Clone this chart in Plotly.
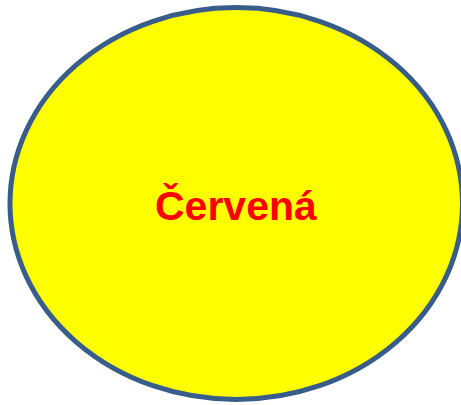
import plotly.graph_objects as go

label = ["Červená"]
ellipse_x = [10, 462.5]
ellipse_y = [7.5, 399.5]

W, H = 461, 405
fig = go.Figure()
fig.add_shape(type="circle", xref="x", yref="y",
              x0=ellipse_x[0], x1=ellipse_x[1], y0=H - ellipse_y[1], y1=H - ellipse_y[0],
              fillcolor="#FFFF00", line=dict(color="#385D8A", width=5), layer="above")
fig.add_annotation(x=236, y=H - 206, xref="x", yref="y", text=f"<b>{label[0]}</b>",
                   showarrow=False, font=dict(family="Liberation Sans, Arial", size=41, color="#FF0000"))
fig.update_xaxes(range=[0, W], visible=False, fixedrange=True)
fig.update_yaxes(range=[0, H], visible=False, fixedrange=True)
fig.update_layout(width=W, height=H, margin=dict(l=0, r=0, t=0, b=0),
                  paper_bgcolor="white", plot_bgcolor="white", showlegend=False)
fig.write_html("out.html", config={"displayModeBar": False},
               post_script="document.body.style.margin='0';document.body.style.overflow='hidden';")
